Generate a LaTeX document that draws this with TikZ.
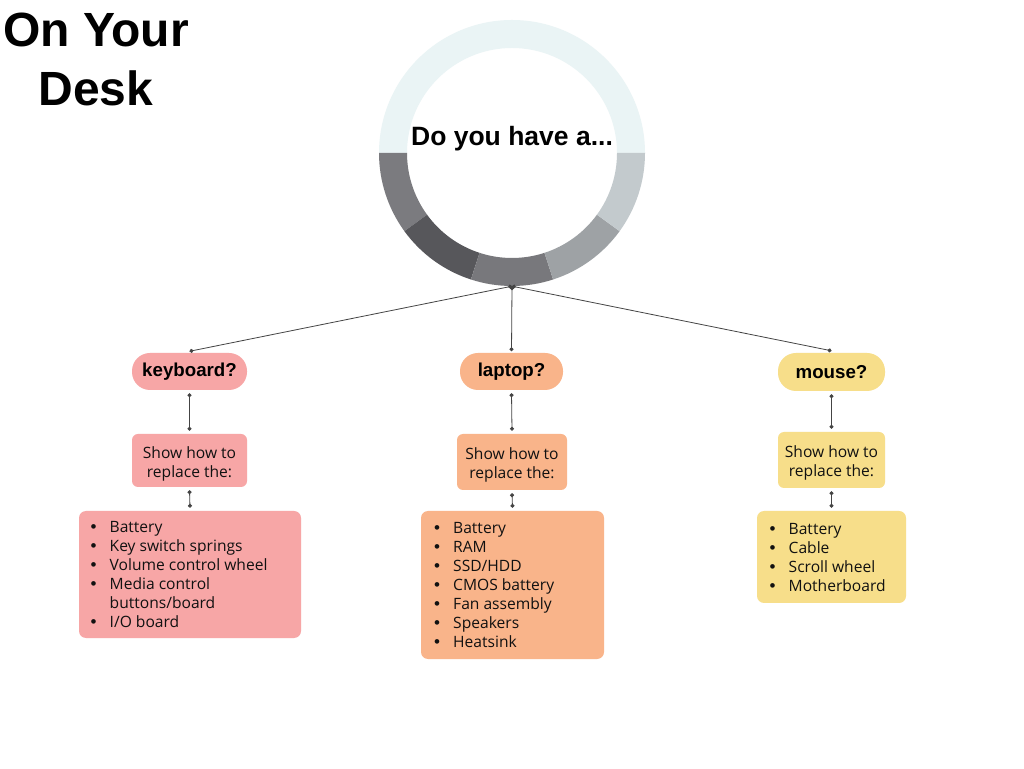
\documentclass[tikz,border=0pt]{standalone}
\usepackage{fontspec}
\setmainfont{Open Sans}
\newfontfamily\hdfont{Liberation Sans}
\usetikzlibrary{arrows.meta}
\definecolor{ringtop}{HTML}{EAF4F5}
\definecolor{segA}{HTML}{7B7B7F}
\definecolor{segB}{HTML}{57575B}
\definecolor{segC}{HTML}{78787C}
\definecolor{segD}{HTML}{9EA2A5}
\definecolor{segE}{HTML}{C3CACD}
\definecolor{kbfill}{HTML}{F7A6A6}
\definecolor{lpfill}{HTML}{F9B48A}
\definecolor{msfill}{HTML}{F7DE8A}
\definecolor{linecol}{HTML}{444444}
\definecolor{txt}{HTML}{111111}
\newcommand\itm[1]{\makebox[19pt][l]{{\hdfont\fontsize{17}{19}\selectfont •}}#1}
\newcommand\itc[1]{\makebox[19pt][l]{}#1}
\tikzset{
  pill/.style={rounded corners=18pt, inner sep=0pt, text=black,
    font=\hdfont\bfseries\fontsize{18.7}{22}\selectfont},
  showbox/.style={rounded corners=6pt, inner sep=0pt},
  showtext/.style={inner sep=0pt, align=center, text=txt,
    font=\fontsize{15.6}{19}\selectfont},
  listbox/.style={rounded corners=7pt, inner sep=0pt},
  listtext/.style={anchor=west, inner sep=0pt, align=left, text=txt,
    font=\fontsize{15.6}{19}\selectfont},
  conn/.style={draw=linecol, line width=0.8pt, {Circle[length=4pt]}-{Circle[length=4pt]}},
}
\newcommand\seg[3]{\fill[#3] ([shift={(512,615)}]#1:133pt) arc[start angle=#1, end angle=#2, radius=133pt] -- ([shift={(512,615)}]#2:105pt) arc[start angle=#2, end angle=#1, radius=105pt] -- cycle;}
\begin{document}
\begin{tikzpicture}[x=1pt,y=1pt]
\useasboundingbox[fill=white] (0,0) rectangle (1024,768);
% title
\node[font=\hdfont\bfseries\fontsize{48}{59}\selectfont, align=center, inner sep=0pt] (title) at (96,708.5) {On Your\\Desk};
% ring
\seg{0}{180}{ringtop}
\seg{180}{216}{segA}
\seg{216}{252}{segB}
\seg{252}{288}{segC}
\seg{288}{324}{segD}
\seg{324}{360}{segE}
\node[circle, minimum size=266pt, inner sep=0pt] (ring) at (512,615) {};
\node[font=\hdfont\bfseries\fontsize{26.5}{30}\selectfont, inner sep=0pt] (q) at (512,629) {Do you have a...};
% pills
\node[pill, fill=kbfill, minimum width=115pt, minimum height=37pt] (kb) at (189.5,396.5) {keyboard?};
\node[pill, fill=lpfill, minimum width=103pt, minimum height=37pt] (lp) at (511.5,396.5) {laptop?};
\node[pill, fill=msfill, minimum width=107pt, minimum height=38pt] (ms) at (831.5,396) {mouse?};
% show boxes
\node[showbox, fill=kbfill, minimum width=115pt, minimum height=53pt] (kbs) at (189.5,307.5) {};
\node[showbox, fill=lpfill, minimum width=110pt, minimum height=56pt] (lps) at (512,306) {};
\node[showbox, fill=msfill, minimum width=107pt, minimum height=56pt] (mss) at (831.5,308) {};
\node[showtext] (kbst) at (189.5,304.5) {Show how to\\replace the:};
\node[showtext] (lpst) at (512,303.5) {Show how to\\replace the:};
\node[showtext] (msst) at (831.5,305.5) {Show how to\\replace the:};
% list boxes
\node[listbox, fill=kbfill, minimum width=222pt, minimum height=127pt] (kbl) at (190,193.5) {};
\node[listbox, fill=lpfill, minimum width=183pt, minimum height=148pt] (lpl) at (512.5,183) {};
\node[listbox, fill=msfill, minimum width=149pt, minimum height=92pt] (msl) at (831.5,211) {};
\node[listtext] (kbt) at (90.5,193) {\itm{Battery}\\\itm{Key switch springs}\\\itm{Volume control wheel}\\\itm{Media control}\\\itc{buttons/board}\\\itm{I/O board}};
\node[listtext] (lpt) at (434,183) {\itm{Battery}\\\itm{RAM}\\\itm{SSD/HDD}\\\itm{CMOS battery}\\\itm{Fan assembly}\\\itm{Speakers}\\\itm{Heatsink}};
\node[listtext] (mst) at (769.5,210.5) {\itm{Battery}\\\itm{Cable}\\\itm{Scroll wheel}\\\itm{Motherboard}};
% connectors
\draw[conn] (ring.south) -- ([yshift=1.5pt]kb.north);
\draw[conn] (ring.south) -- ([yshift=1.5pt]lp.north);
\draw[conn] (ring.south) -- ([yshift=2pt]ms.north);
\draw[conn] ([yshift=-3pt]kb.south) -- ([yshift=3pt]kbs.north);
\draw[conn] ([yshift=-3pt]lp.south) -- ([yshift=3pt]lps.north);
\draw[conn] ([yshift=-3pt]ms.south) -- ([yshift=3pt]mss.north);
\draw[conn] ([yshift=-3pt]kbs.south) -- ([yshift=3pt]kbl.north);
\draw[conn] ([yshift=-3pt]lps.south) -- ([yshift=3pt]lpl.north);
\draw[conn] ([yshift=-3pt]mss.south) -- ([yshift=3pt]msl.north);
\end{tikzpicture}
\end{document}
